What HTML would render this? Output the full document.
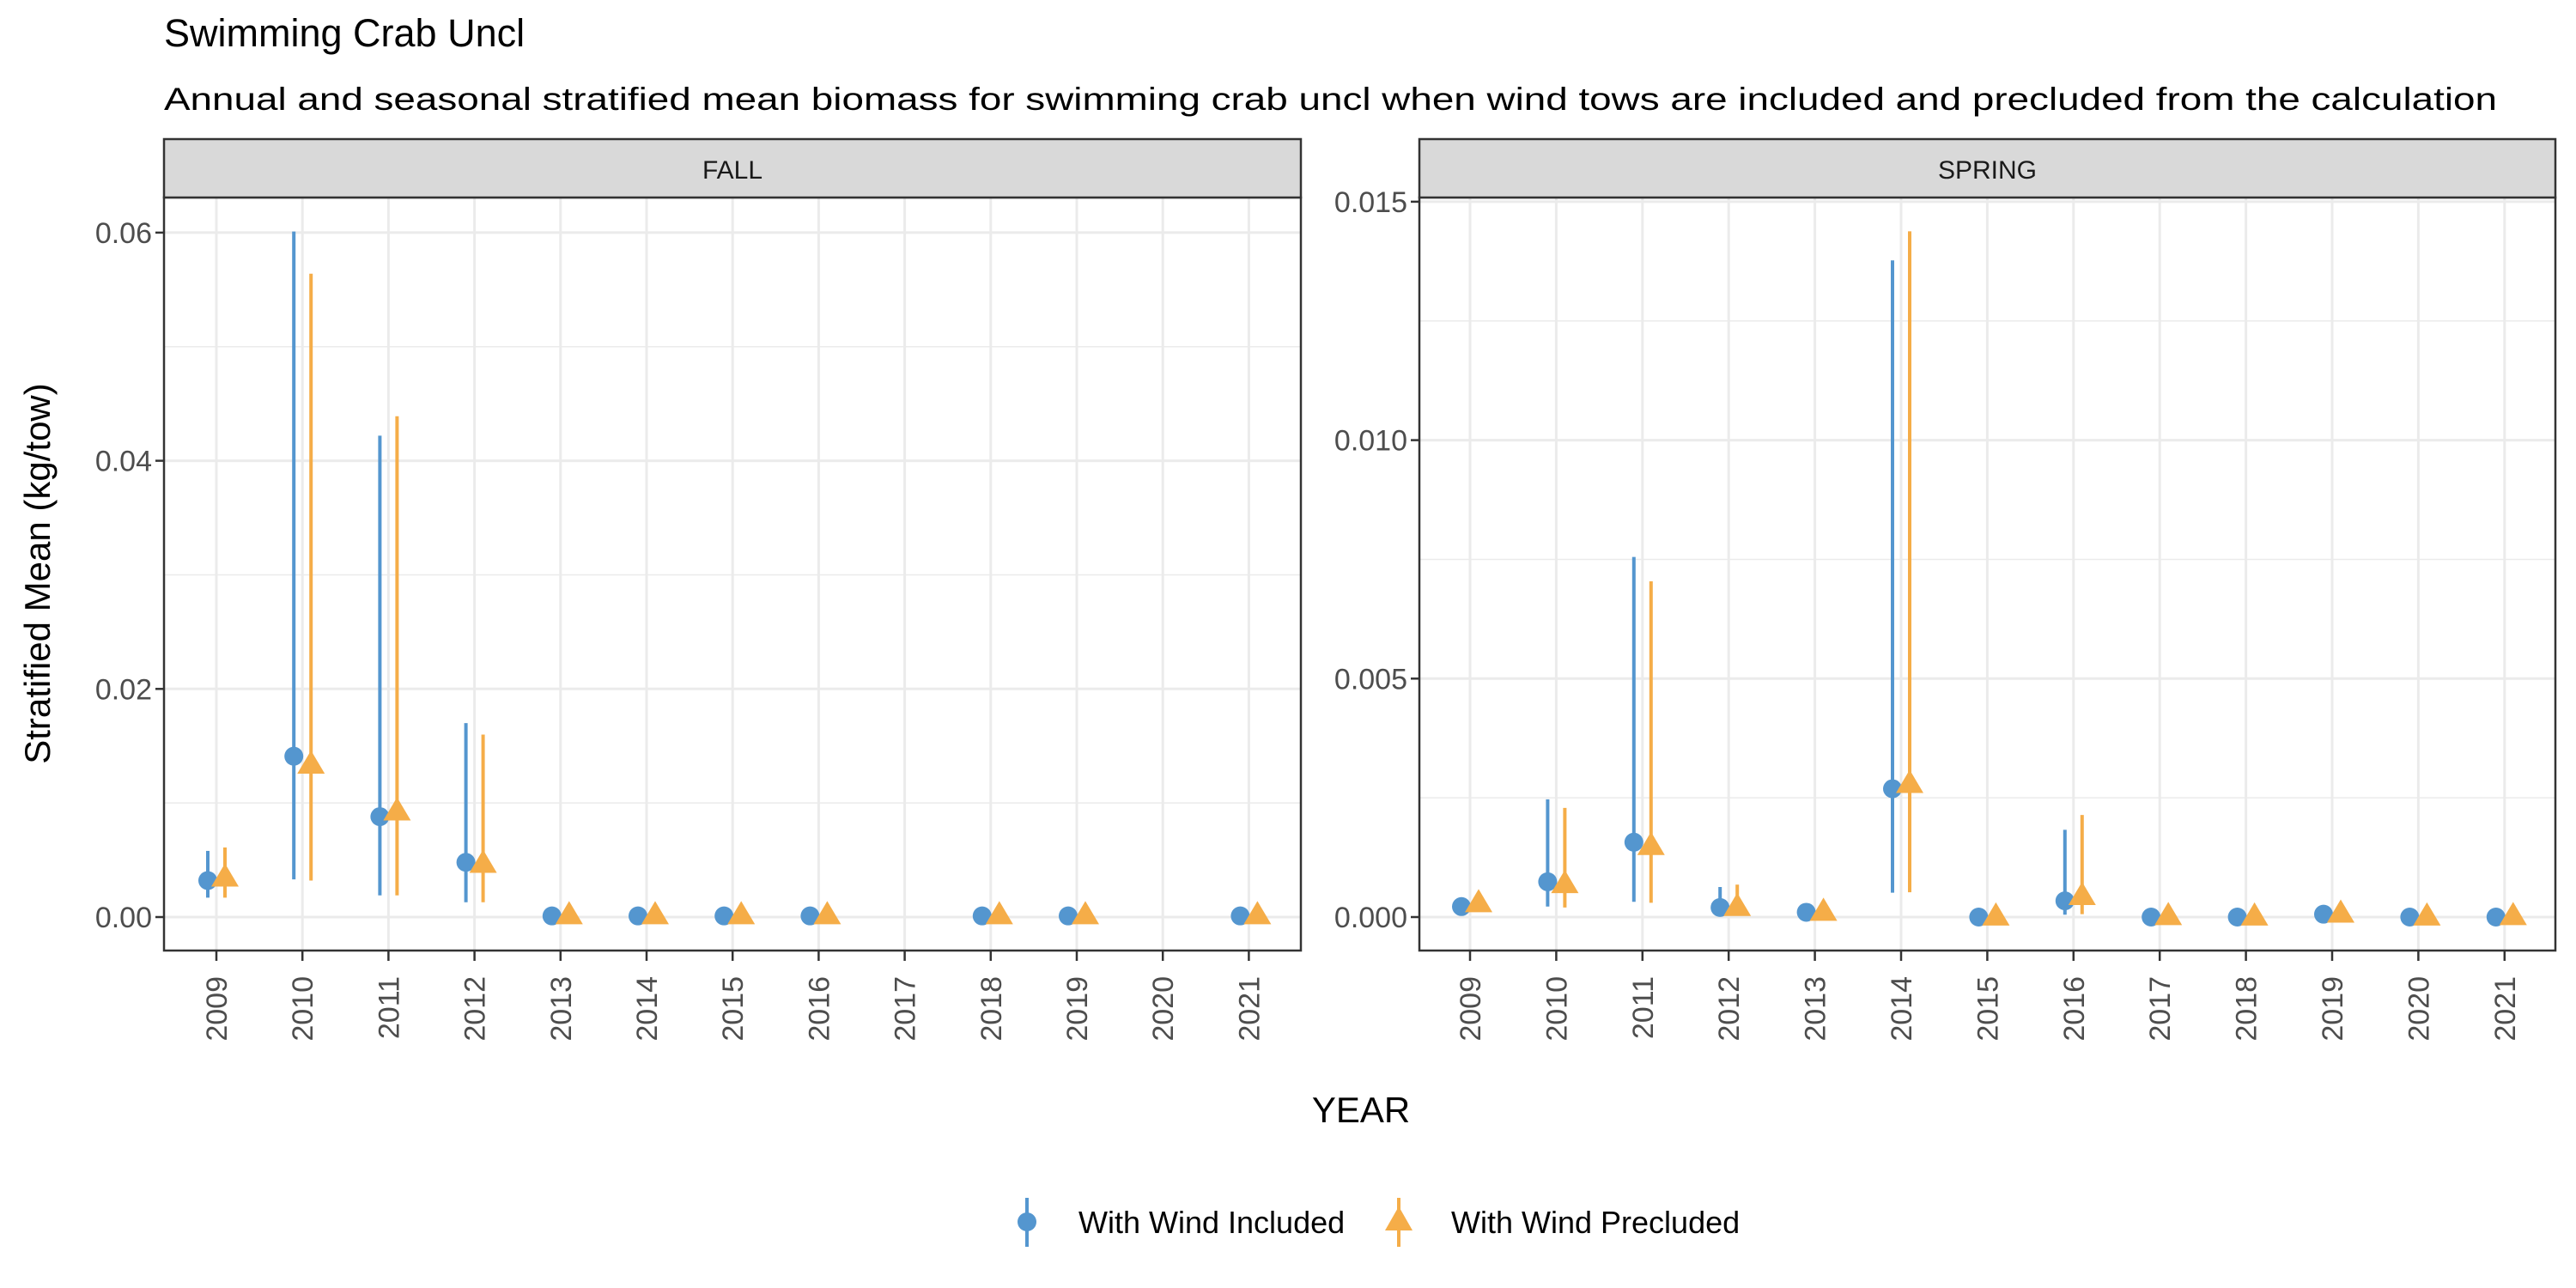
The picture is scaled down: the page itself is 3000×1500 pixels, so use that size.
<!DOCTYPE html>
<html><head><meta charset="utf-8"><style>
html,body{margin:0;padding:0;background:#fff;}
svg{display:block;font-family:"Liberation Sans",Arial,sans-serif;}
</style></head><body>
<svg id="chart" width="3000" height="1500" viewBox="0 0 3000 1500" xmlns="http://www.w3.org/2000/svg">
<text x="191" y="54" font-size="45" fill="#000">Swimming Crab Uncl</text>
<text x="191" y="128" font-size="37" fill="#000" textLength="2717" lengthAdjust="spacingAndGlyphs">Annual and seasonal stratified mean biomass for swimming crab uncl when wind tows are included and precluded from the calculation</text>
<text transform="translate(58,668) rotate(-90)" text-anchor="middle" font-size="42" fill="#000">Stratified Mean (kg/tow)</text>
<text x="1585" y="1307" text-anchor="middle" font-size="42" fill="#000">YEAR</text>
<g id="panels"></g>
<g>
  <g>
    <line x1="1196" y1="1395" x2="1196" y2="1452" stroke="#5496cf" stroke-width="4"/>
    <circle cx="1196" cy="1423" r="11" fill="#5496cf"/>
    <text x="1256" y="1436" font-size="36" fill="#000">With Wind Included</text>
  </g>
  <g>
    <line x1="1629" y1="1395" x2="1629" y2="1452" stroke="#f5ad48" stroke-width="4"/>
    <polygon points="1629,1405 1645,1433 1613,1433" fill="#f5ad48"/>
    <text x="1690" y="1436" font-size="36" fill="#000">With Wind Precluded</text>
  </g>
</g>
</svg>
<script>
const fallYears = [2009,2010,2011,2012,2013,2014,2015,2016,2018,2019,2021];
const fallIncl = [0.0032,0.0141,0.0088,0.0048,0.0001,0.0001,0.0001,0.0001,0.0001,0.0001,0.0001];
const fallInclLo = [0.0017,0.0033,0.0019,0.0013,0.0001,0.0001,0.0001,0.0001,0.0001,0.0001,0.0001];
const fallInclHi = [0.0058,0.0601,0.0422,0.0170,0.0001,0.0001,0.0001,0.0001,0.0001,0.0001,0.0001];
const fallPrec = [0.0035,0.0134,0.0093,0.0047,0.0002,0.0002,0.0002,0.0002,0.0002,0.0002,0.0002];
const fallPrecLo = [0.0017,0.0032,0.0019,0.0013,0.0002,0.0002,0.0002,0.0002,0.0002,0.0002,0.0002];
const fallPrecHi = [0.0061,0.0564,0.0439,0.0160,0.0002,0.0002,0.0002,0.0002,0.0002,0.0002,0.0002];
const springYears = [2009,2010,2011,2012,2013,2014,2015,2016,2017,2018,2019,2020,2021];
const springIncl = [0.00022,0.00074,0.00157,0.0002,0.0001,0.00269,0.0000,0.00034,0.0000,0.0000,0.00006,0.0000,0.0000];
const springInclLo = [0.00022,0.00022,0.00032,0.0001,0.0001,0.00051,0.0000,0.00005,0.0000,0.0000,0.00006,0.0000,0.0000];
const springInclHi = [0.00022,0.00247,0.00755,0.00063,0.0001,0.01377,0.0000,0.00183,0.0000,0.0000,0.00006,0.0000,0.0000];
const springPrec = [0.0003,0.0007,0.0015,0.00022,0.00012,0.0028,0.00002,0.00045,0.00003,0.00002,0.00008,0.00002,0.00003];
const springPrecLo = [0.0003,0.0002,0.0003,0.0001,0.00012,0.00052,0.00002,0.00006,0.00003,0.00002,0.00008,0.00002,0.00003];
const springPrecHi = [0.0003,0.00229,0.00704,0.00068,0.00012,0.01438,0.00002,0.00214,0.00003,0.00002,0.00008,0.00002,0.00003];
const allYears = [2009,2010,2011,2012,2013,2014,2015,2016,2017,2018,2019,2020,2021];
const fallTicks = [0,0.02,0.04,0.06];
const fallTickLabels = ["0.00","0.02","0.04","0.06"];
const fallMinor = [0.01,0.03,0.05];
const springTicks = [0,0.005,0.01,0.015];
const springTickLabels = ["0.000","0.005","0.010","0.015"];
const springMinor = [0.0025,0.0075,0.0125];

const NS="http://www.w3.org/2000/svg";
const root=document.getElementById('panels');
function mk(tag,attrs,parent){const e=document.createElementNS(NS,tag);for(const k in attrs)e.setAttribute(k,attrs[k]);parent.appendChild(e);return e;}

function panel(cfg){
  const g=mk('g',{},root);
  
  
  const L=cfg.left,R=cfg.right,T=230,B=1107;
  const xS=y=>cfg.x0+(y-2009)*cfg.dx;
  const yS=v=>cfg.y0-v*cfg.py;
  mk('rect',{x:L,y:T,width:R-L,height:B-T,fill:'#fff'},g);
  cfg.minor.forEach(v=>{const l=mk('line',{x1:L,x2:R,y1:yS(v),y2:yS(v),stroke:'#ebebeb','stroke-width':1.5},g);
    
    });
  cfg.ticks.forEach(v=>{const l=mk('line',{x1:L,x2:R,y1:yS(v),y2:yS(v),stroke:'#ebebeb','stroke-width':3},g);
    
    });
  allYears.forEach(y=>{const l=mk('line',{x1:xS(y),x2:xS(y),y1:T,y2:B,stroke:'#ebebeb','stroke-width':3},g);
    
    });
  const series=[[cfg.incl,cfg.inclLo,cfg.inclHi,'#5496cf',-10,'c'],[cfg.prec,cfg.precLo,cfg.precHi,'#f5ad48',10,'t']];
  series.forEach(s=>{
    cfg.years.forEach((yr,i)=>{
      const x=xS(yr)+s[4];
      const l=mk('line',{x1:x,x2:x,y1:yS(s[2][i]),y2:yS(s[1][i]),stroke:s[3],'stroke-width':4},g);
      
      
      const y=yS(s[0][i]);
      let p;
      if(s[5]==='c'){p=mk('circle',{cx:x,cy:y,r:11,fill:s[3]},g);
        }
      else{p=mk('polygon',{points:`${x},${y-16} ${x+16},${y+11} ${x-16},${y+11}`,fill:s[3]},g);
        }
      
    });
  });
  const border=mk('rect',{x:L,y:T,width:R-L,height:B-T,fill:'none',stroke:'#333','stroke-width':2.5},g);
  
  
  const strip=mk('rect',{x:L,y:162,width:R-L,height:T-162,fill:'#d9d9d9',stroke:'#333','stroke-width':2.5},g);
  
  
  const st=mk('text',{x:(L+R)/2,y:208,'text-anchor':'middle','font-size':30,fill:'#1a1a1a'},g);
  st.textContent=cfg.label;
  
  
  cfg.ticks.forEach((v,i)=>{
    mk('line',{x1:L-10,x2:L,y1:yS(v),y2:yS(v),stroke:'#333','stroke-width':2.5},g);
    const t=mk('text',{x:L-14,y:yS(v)+12,'text-anchor':'end','font-size':34,fill:'#4d4d4d'},g);
    t.textContent=cfg.tickLabels[i];
    
    
  });
  allYears.forEach(y=>{
    mk('line',{x1:xS(y),x2:xS(y),y1:B,y2:B+12,stroke:'#333','stroke-width':2.5},g);
    const t=mk('text',{transform:`translate(${xS(y)+12},1137) rotate(-90)`,'text-anchor':'end','font-size':34,fill:'#4d4d4d'},g);
    t.textContent=String(y);
    
    
  });
}
panel({name:'fall',label:'FALL',left:191,right:1515,x0:252,dx:100.2,y0:1068,py:265.7/0.02,
  ticks:fallTicks,tickLabels:fallTickLabels,minor:fallMinor,years:fallYears,
  incl:fallIncl,inclLo:fallInclLo,inclHi:fallInclHi,prec:fallPrec,precLo:fallPrecLo,precHi:fallPrecHi});
panel({name:'spring',label:'SPRING',left:1653,right:2976,x0:1712,dx:100.4,y0:1068,py:277.7/0.005,
  ticks:springTicks,tickLabels:springTickLabels,minor:springMinor,years:springYears,
  incl:springIncl,inclLo:springInclLo,inclHi:springInclHi,prec:springPrec,precLo:springPrecLo,precHi:springPrecHi});
</script>
</body></html>
